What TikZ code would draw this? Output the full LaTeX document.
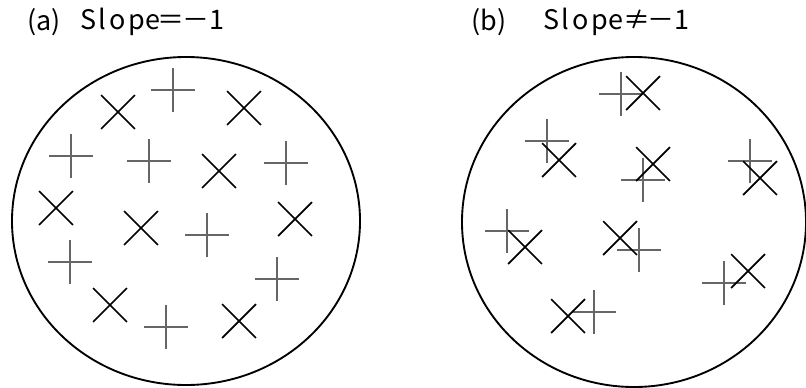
\documentclass[tikz,border=0pt]{standalone}
\usepackage{fontspec}
\newfontfamily\titlefont{Noto Sans CJK JP}
\usepackage{tikz}
\usetikzlibrary{
    shapes.geometric,
    shapes.misc
}
\tikzstyle{ring} = [
    ellipse,
    draw=black,
    line width=1.6pt,
    inner sep=0pt
]
\tikzstyle{xmark} = [
    cross out,
    draw=black,
    line width=1.5pt,
    minimum size=0.96cm,
    inner sep=0pt
]
\tikzstyle{plusmark} = [
    rectangle,
    minimum size=1.32cm,
    inner sep=0pt,
    path picture={
        \draw[black!60, line width=1.7pt]
            (path picture bounding box.north) -- (path picture bounding box.south)
            (path picture bounding box.west) -- (path picture bounding box.east);
    }
]
\tikzstyle{caption} = [
    anchor=west,
    inner sep=0pt,
    font=\titlefont\fontsize{23}{23}\selectfont
]
\newcommand{\slopeword}{{\addfontfeature{LetterSpace=10}Slop}e}

\begin{document}
\begin{tikzpicture}[x=0.03cm, y=-0.03cm]
    \useasboundingbox (0,0) rectangle (806,387);

    % Captions
    \node[caption] (capa) at (27,22) {(a)};
    \node[caption] (texta) at (80,22) {\slopeword\kern-2pt＝\kern-2pt－1};
    \node[caption] (capb) at (471,22) {(b)};
    \node[caption] (textb) at (543,22) {\slopeword≠\kern-2pt－1};

    % Outlines
    \node[ring, minimum width=10.44cm, minimum height=9.84cm] (ringa) at (186,221) {};
    \node[ring, minimum width=10.32cm, minimum height=9.9cm] (ringb) at (634,222) {};

    % (a) marks
    \node[plusmark] (pa1) at (173,90) {};
    \node[plusmark] (pa2) at (71,156) {};
    \node[plusmark] (pa3) at (149,161) {};
    \node[plusmark] (pa4) at (286,163) {};
    \node[plusmark] (pa5) at (207,235) {};
    \node[plusmark] (pa6) at (70,262) {};
    \node[plusmark] (pa7) at (277,279) {};
    \node[plusmark] (pa8) at (166,327) {};

    \node[xmark] (xa1) at (118,112) {};
    \node[xmark] (xa2) at (244,108) {};
    \node[xmark] (xa3) at (219,171) {};
    \node[xmark] (xa4) at (56,208) {};
    \node[xmark] (xa5) at (141,228) {};
    \node[xmark] (xa6) at (295,219) {};
    \node[xmark] (xa7) at (110,305) {};
    \node[xmark] (xa8) at (239,321) {};

    % (b) marks
    \node[plusmark] (pb1) at (621,94) {};
    \node[plusmark] (pb2) at (547,141) {};
    \node[plusmark] (pb3) at (643,180) {};
    \node[plusmark] (pb4) at (750,161) {};
    \node[plusmark] (pb5) at (507,231) {};
    \node[plusmark] (pb6) at (639,250) {};
    \node[plusmark] (pb7) at (724,283) {};
    \node[plusmark] (pb8) at (594,312) {};

    \node[xmark] (xb1) at (643,93) {};
    \node[xmark] (xb2) at (559,160) {};
    \node[xmark] (xb3) at (653,164) {};
    \node[xmark] (xb4) at (760,178) {};
    \node[xmark] (xb5) at (525,247) {};
    \node[xmark] (xb6) at (620,238) {};
    \node[xmark] (xb7) at (748,271) {};
    \node[xmark] (xb8) at (568,316) {};
\end{tikzpicture}
\end{document}
